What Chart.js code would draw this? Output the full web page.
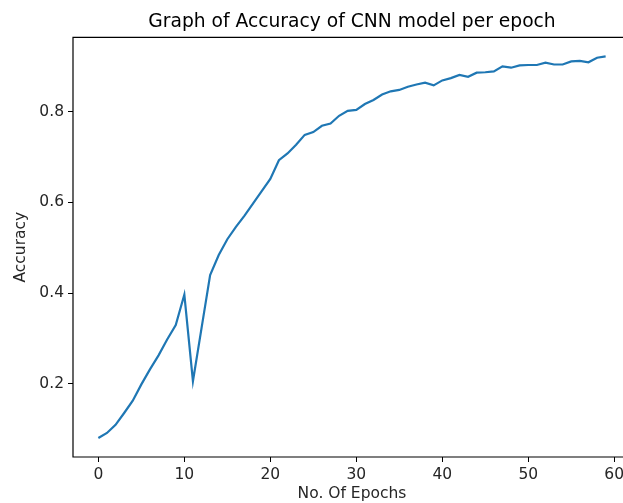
<!DOCTYPE html>
<html>
<head>
<meta charset="utf-8">
<script src="https://cdn.jsdelivr.net/npm/chart.js@4"></script>
<style>
  html, body { margin: 0; padding: 0; background: #fff; overflow: hidden; }
  canvas { display: block; }
</style>
</head>
<body>
<canvas id="accChart" width="640" height="503"></canvas>
<script>
// epochs 0..59 and accuracy per epoch
const epochs = [];
for (let i = 0; i < 60; i++) epochs.push(i);
const accuracy = [
  0.081, 0.092, 0.110, 0.136, 0.163, 0.199, 0.232, 0.263, 0.298, 0.330,
  0.397, 0.206, 0.323, 0.440, 0.484, 0.519, 0.546, 0.571, 0.598, 0.625,
  0.652, 0.693, 0.708, 0.727, 0.749, 0.755, 0.769, 0.774, 0.791, 0.802,
  0.804, 0.817, 0.826, 0.838, 0.845, 0.848, 0.855, 0.860, 0.864, 0.858,
  0.869, 0.874, 0.881, 0.877, 0.886, 0.887, 0.889, 0.900, 0.897, 0.902,
  0.903, 0.903, 0.908, 0.904, 0.904, 0.911, 0.912, 0.909, 0.919, 0.922
];
const xTicks = [0, 10, 20, 30, 40, 50, 60];
const yTicks = [0.2, 0.4, 0.6, 0.8];
const chartTitle = 'Graph of Accuracy of CNN model per epoch';

const txt = '#262626';
const fontFam = '"DejaVu Sans", sans-serif';

// spines round the plot area (the right one falls outside the window)
// and the title centred over the axes, as matplotlib does
const frame = {
  id: 'frame',
  afterDatasetsDraw(chart) {
    const a = chart.chartArea, c = chart.ctx;
    c.save();
    c.strokeStyle = '#000';
    c.lineWidth = 1.2;
    c.beginPath();
    c.moveTo(a.right, a.top);
    c.lineTo(a.left, a.top);
    c.lineTo(a.left, a.bottom);
    c.lineTo(a.right, a.bottom);
    c.stroke();
    c.fillStyle = '#000';
    c.font = '18.7px ' + fontFam;
    c.textAlign = 'center';
    c.textBaseline = 'alphabetic';
    c.fillText(chartTitle, (a.left + a.right) / 2, a.top - 10);
    c.restore();
  }
};

new Chart(document.getElementById('accChart'), {
  type: 'line',
  data: {
    datasets: [{
      data: epochs.map((e, i) => ({ x: e, y: accuracy[i] })),
      borderColor: '#1f77b4',
      borderWidth: 2.2,
      pointRadius: 0,
      tension: 0,
      fill: false
    }]
  },
  options: {
    responsive: false,
    animation: false,
    layout: { padding: { left: 0, right: 9, top: 37.3, bottom: 0 } },
    plugins: {
      legend: { display: false },
      tooltip: { enabled: false },
      title: { display: false }
    },
    scales: {
      x: {
        type: 'linear',
        min: -2.95,
        max: 61.95,
        afterBuildTicks: s => { s.ticks = xTicks.map(v => ({ value: v })); },
        afterFit: s => { s.height = 46; s.paddingLeft = 0; s.paddingRight = 0; },
        grid: { drawOnChartArea: false, drawTicks: true, tickLength: 5, color: '#000' },
        border: { display: false },
        ticks: { color: txt, padding: 4, maxRotation: 0, font: { family: fontFam, size: 15.5 } },
        title: {
          display: true,
          text: 'No. Of Epochs',
          color: txt,
          padding: 0,
          font: { family: fontFam, size: 15.5 }
        }
      },
      y: {
        min: 0.039,
        max: 0.964,
        afterBuildTicks: s => { s.ticks = yTicks.map(v => ({ value: v })); },
        afterFit: s => { s.width = 73; s.paddingTop = 0; s.paddingBottom = 0; },
        grid: { drawOnChartArea: false, drawTicks: true, tickLength: 5, color: '#000' },
        border: { display: false },
        ticks: {
          color: txt,
          padding: 4,
          font: { family: fontFam, size: 15.5 },
          callback: v => v.toFixed(1)
        },
        title: {
          display: true,
          text: 'Accuracy',
          color: txt,
          padding: { top: 12, bottom: 0 },
          font: { family: fontFam, size: 15.5 }
        }
      }
    }
  },
  plugins: [frame]
});
</script>
</body>
</html>
